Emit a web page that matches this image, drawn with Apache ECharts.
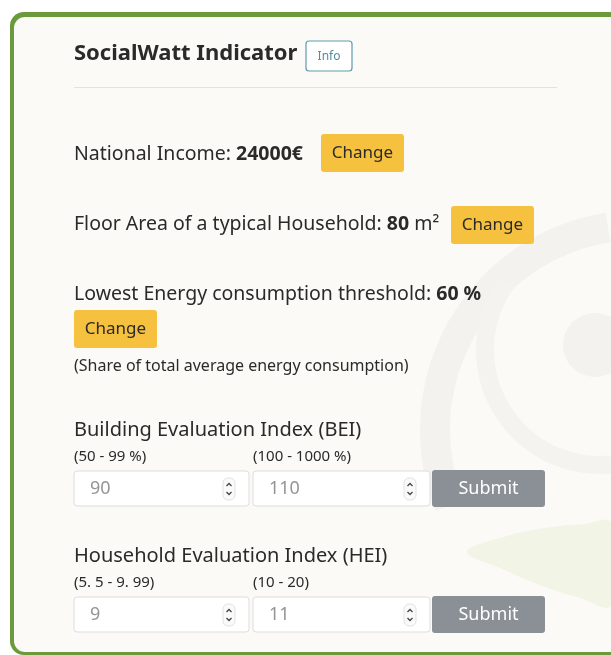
<!DOCTYPE html>
<html>
<head>
<meta charset="utf-8">
<script src="https://cdn.jsdelivr.net/npm/echarts@6/dist/echarts.min.js"></script>
<style>
  html, body { margin: 0; padding: 0; background: #ffffff; }
  #panel { width: 611px; height: 655px; }
</style>
</head>
<body>
<div id="panel"></div>
<script>
// contenido del panel
const titulo = 'SocialWatt Indicator';
const botonInfo = 'Info';
const parametros = ['National Income: ', 'Floor Area of a typical Household: ', 'Lowest Energy consumption threshold: '];
const valoresParametros = ['24000€', '80', '60 %'];
const unidades = ['', ' m²', ''];
const notaUmbral = '(Share of total average energy consumption)';
const botonCambio = 'Change';
const indices = ['Building Evaluation Index (BEI)', 'Household Evaluation Index (HEI)'];
const rangosBajos = ['(50 - 99 %)', '(5. 5 - 9. 99)'];
const rangosAltos = ['(100 - 1000 %)', '(10 - 20)'];
const valoresBajos = [90, 9];
const valoresAltos = [110, 11];
const botonEnviar = 'Submit';

const FUENTE = '"Noto Sans", "Open Sans", sans-serif';
const TEXTO = '#2a2a2a';
const AMARILLO = '#f5c13f';
const GRIS = '#8b9096';

const panel = echarts.init(document.getElementById('panel'));

function texto(t, x, y, size, opts) {
    opts = opts || {};
    return {
        type: 'text',
        z: 10,
        style: {
            text: t, x: x, y: y,
            fontFamily: FUENTE, fontSize: size,
            fontWeight: opts.bold ? 'bold' : 'normal',
            fill: opts.color || TEXTO,
            align: opts.align || 'left',
            verticalAlign: 'middle'
        }
    };
}

function boton(x, y, w, h, etiqueta, fondo, color, size) {
    return [
        { type: 'rect', z: 9, shape: { x: x, y: y, width: w, height: h, r: 3 }, style: { fill: fondo } },
        texto(etiqueta, x + w / 2, y + h / 2, size, { color: color, align: 'center' })
    ];
}

function spinner(x, y) {
    return [
        { type: 'rect', z: 9, shape: { x: x, y: y, width: 12, height: 22, r: 5 }, style: { fill: '#fafafa', stroke: '#e2e2e2', lineWidth: 1 } },
        { type: 'polyline', z: 10, shape: { points: [[x + 3.5, y + 8], [x + 6, y + 5.5], [x + 8.5, y + 8]] }, style: { stroke: '#444', lineWidth: 1.3, fill: null } },
        { type: 'polyline', z: 10, shape: { points: [[x + 3.5, y + 14], [x + 6, y + 16.5], [x + 8.5, y + 14]] }, style: { stroke: '#444', lineWidth: 1.3, fill: null } }
    ];
}

function campo(x, y, w, valor) {
    return [
        { type: 'rect', z: 8, shape: { x: x, y: y, width: w, height: 35, r: 3 }, style: { fill: '#ffffff', stroke: '#dddddd', lineWidth: 1 } },
        texto(String(valor), x + 16, y + 18, 18, { color: '#959595' })
    ].concat(spinner(x + w - 26, y + 7));
}

let elementos = [];

// marco verde y fondo
elementos.push({ type: 'rect', z: 0, shape: { x: 10, y: 12, width: 700, height: 643, r: [14, 0, 0, 14] }, style: { fill: '#6a9a3b' } });
elementos.push({ type: 'rect', z: 1, shape: { x: 14, y: 17, width: 700, height: 635, r: [11, 0, 0, 11] }, style: { fill: '#fbfaf6' } });

// marca de agua
elementos.push({ type: 'arc', z: 2, shape: { cx: 640, cy: 430, r: 205, startAngle: Math.PI * 0.88, endAngle: Math.PI * 1.45 }, style: { stroke: '#f3f2ee', lineWidth: 30, fill: null } });
elementos.push({ type: 'circle', z: 2, shape: { cx: 595, cy: 345, r: 32 }, style: { fill: '#f3f2ee' } });
elementos.push({ type: 'arc', z: 2, shape: { cx: 600, cy: 350, r: 115, startAngle: Math.PI * 0.47, endAngle: Math.PI * 1.2 }, style: { stroke: '#f4f3ef', lineWidth: 18, fill: null } });
elementos.push({ type: 'polygon', z: 2, shape: { points: [[467, 552], [500, 538], [545, 528], [585, 524], [611, 523], [611, 605], [580, 598], [540, 585], [500, 568]], smooth: 0.4 }, style: { fill: '#f2f4e5' } });

// titulo
elementos.push(texto(titulo, 74, 54, 22, { bold: true }));
elementos.push({ type: 'rect', z: 9, shape: { x: 306, y: 41, width: 46, height: 30, r: 3 }, style: { fill: '#ffffff', stroke: '#5d9dab', lineWidth: 1.2 } });
elementos.push(texto(botonInfo, 329, 57, 12, { color: '#4f8f9d', align: 'center' }));
elementos.push({ type: 'line', z: 9, shape: { x1: 74, y1: 87.5, x2: 557, y2: 87.5 }, style: { stroke: '#e3e2de', lineWidth: 1 } });

// parametros
const yParam = [154, 224, 294];
const botonesX = [321, 451, 74];
const botonesY = [134, 206, 310];
parametros.forEach((p, i) => {
    elementos.push({
        type: 'text', z: 10,
        style: {
            text: '{n|' + p + '}{b|' + valoresParametros[i] + '}' + (unidades[i] ? '{n|' + unidades[i] + '}' : ''),
            x: 74, y: yParam[i], verticalAlign: 'middle',
            rich: {
                n: { fontFamily: FUENTE, fontSize: 19.5, fill: TEXTO },
                b: { fontFamily: FUENTE, fontSize: 19.5, fontWeight: 'bold', fill: TEXTO }
            }
        }
    });
    elementos = elementos.concat(boton(botonesX[i], botonesY[i], 83, 38, botonCambio, AMARILLO, '#2a2a2a', 17));
});
elementos.push(texto(notaUmbral, 74, 366, 16));

// indices
const yIndice = [430, 556];
indices.forEach((nombre, i) => {
    const y0 = yIndice[i];
    elementos.push(texto(nombre, 74, y0, 20));
    elementos.push(texto(rangosBajos[i], 74, y0 + 27, 15));
    elementos.push(texto(rangosAltos[i], 253, y0 + 27, 15));
    elementos = elementos.concat(campo(74, y0 + 41, 175, valoresBajos[i]));
    elementos = elementos.concat(campo(253, y0 + 41, 177, valoresAltos[i]));
    elementos = elementos.concat(boton(432, y0 + 40, 113, 37, botonEnviar, GRIS, '#ffffff', 18));
});

panel.setOption({
    animation: false,
    graphic: { elements: elementos }
});
</script>
</body>
</html>
